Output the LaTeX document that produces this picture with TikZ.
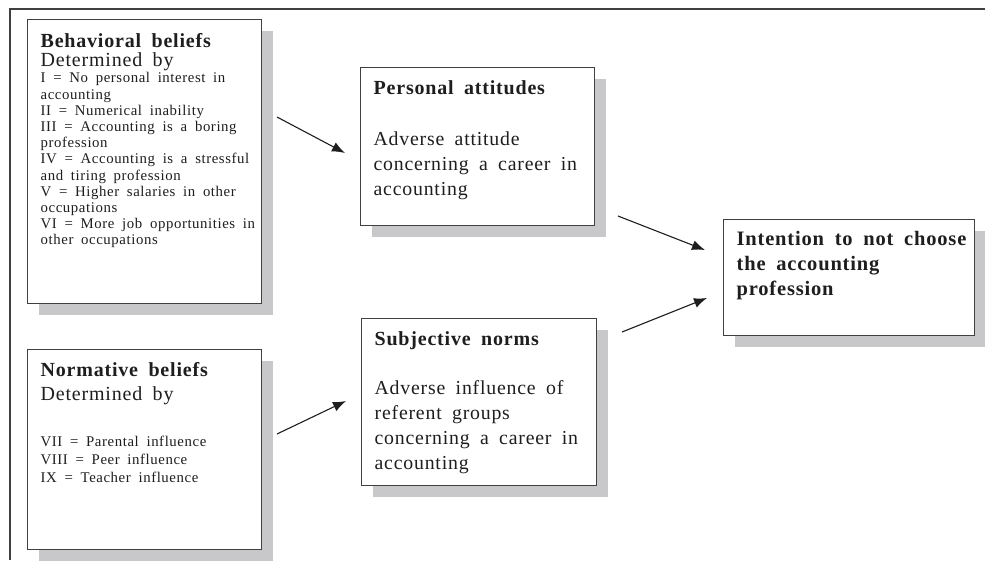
\documentclass[tikz,border=0pt]{standalone}
\usepackage{fontspec}
\setmainfont{Liberation Serif}[LetterSpace=4, WordSpace=1.8]
\usepackage{xcolor}
\usepackage{tikz}
\usetikzlibrary{arrows.meta, shadows}
\definecolor{boxline}{RGB}{64, 64, 64}
\definecolor{boxshadow}{RGB}{200, 200, 203}
\definecolor{inktext}{RGB}{30, 30, 30}

% box body: width, height, content (text starts 13pt in from the left edge)
\newcommand{\boxbody}[3]{%
  \begin{minipage}[t][#2][t]{#1}\raggedright\leftskip=13pt #3\end{minipage}}

\begin{document}
\begin{tikzpicture}[x=1pt, y=-1pt]
    \tikzset{
        card/.style={draw=boxline, line width=1.3pt, fill=white, text=inktext, inner sep=0pt,
            anchor=north west,
            drop shadow={shadow xshift=11pt, shadow yshift=-11pt, fill=boxshadow, opacity=1}},
        flow/.style={draw=inktext, line width=1.1pt, -{Latex[length=13pt, width=10pt]}}
    }
    \useasboundingbox (0,0) rectangle (985,560);

    % outer frame
    \draw[boxline, line width=1.5pt] (10,560) -- (10,9) -- (985,9);

    \node[card] (beh) at (27,19) {\boxbody{234pt}{284pt}{%
        {\fontsize{20}{20}\selectfont\bfseries\rule{0pt}{28pt}Behavioral beliefs\par}
        {\fontsize{20}{19}\selectfont Determined by\par}
        {\fontsize{14.8}{16.2}\selectfont
        I = No personal interest in\\
        accounting\\
        II = Numerical inability\\
        III = Accounting is a boring\\
        profession\\
        IV = Accounting is a stressful\\
        and tiring profession\\
        V = Higher salaries in other\\
        occupations\\
        VI = More job opportunities in\\
        other occupations\par}}};

    \node[card] (norm) at (27,349) {\boxbody{234pt}{200pt}{%
        {\fontsize{20}{20}\selectfont\bfseries\rule{0pt}{27pt}Normative beliefs\par}
        {\fontsize{20}{24}\selectfont Determined by\par}
        \vspace{28pt}
        {\fontsize{14.8}{18}\selectfont
        VII = Parental influence\\
        VIII = Peer influence\\
        IX = Teacher influence\par}}};

    \node[card] (pers) at (360,67) {\boxbody{234pt}{158pt}{%
        {\fontsize{20}{20}\selectfont\bfseries\rule{0pt}{27pt}Personal attitudes\par}
        \vspace{26pt}
        {\fontsize{19.8}{25}\selectfont
        Adverse attitude\\
        concerning a career in\\
        accounting\par}}};

    \node[card] (subj) at (361,318) {\boxbody{235pt}{167pt}{%
        {\fontsize{20}{20}\selectfont\bfseries\rule{0pt}{27pt}Subjective norms\par}
        \vspace{24pt}
        {\fontsize{19.8}{25}\selectfont
        Adverse influence of\\
        referent groups\\
        concerning a career in\\
        accounting\par}}};

    \node[card] (int) at (723,219) {\boxbody{251pt}{116pt}{%
        {\fontsize{20.5}{25}\selectfont\bfseries\rule{0pt}{26pt}Intention to not choose\\
        the accounting\\
        profession\par}}};

    % arrow ends
    \coordinate (behout) at (277,117);
    \coordinate (persin) at (345,153);
    \coordinate (normout) at (277,434);
    \coordinate (subjin) at (346,401);
    \coordinate (persout) at (618,216);
    \coordinate (intin1) at (705,250);
    \coordinate (subjout) at (622,332);
    \coordinate (intin2) at (707,298);

    \draw[flow] (behout) -- (persin);
    \draw[flow] (normout) -- (subjin);
    \draw[flow] (persout) -- (intin1);
    \draw[flow] (subjout) -- (intin2);
\end{tikzpicture}
\end{document}
